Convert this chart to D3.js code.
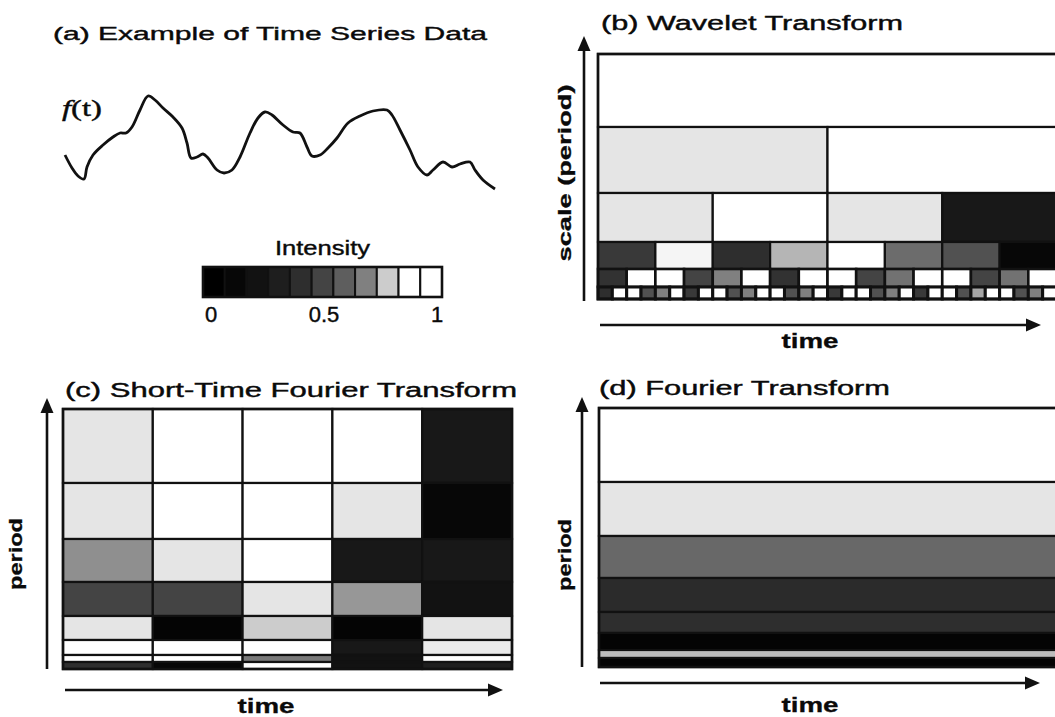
<!DOCTYPE html>
<html>
<head>
<meta charset="utf-8">
<script src="https://cdn.jsdelivr.net/npm/d3@7"></script>
<style>
  html, body { margin: 0; padding: 0; background: #fff; }
  svg { display: block; }
  text { font-family: "Liberation Sans", Arial, Helvetica, sans-serif; fill: #0a0a0a; }
</style>
</head>
<body>
<svg id="fig" width="1055" height="717"></svg>
<script>
// ---------------- data ----------------
// (a) example time series f(t): time and amplitude samples
const seriesT = [0, 7, 13, 19, 22, 28, 38, 48, 55, 61, 67, 75, 83, 90, 98, 108, 117, 122, 126, 132,
  138, 143, 152, 159, 167, 175, 185, 193, 200, 207, 218, 228, 235, 242, 247, 255, 263, 272, 283, 295,
  308, 322, 327, 335, 345, 353, 362, 368, 378, 387, 395, 405, 410, 418, 430];
const seriesF = [45, 32, 24, 21, 33, 45, 55, 63, 67, 67, 73, 90, 104, 100, 92, 83, 72, 57, 42, 43,
  46, 42, 30, 27, 30, 43, 67, 82, 88, 85, 75, 68, 67, 53, 44, 45, 52, 62, 77, 84,
  89, 90, 85, 70, 50, 33, 25, 30, 38, 33, 36, 38, 30, 20, 11];

// intensity legend
const intensityLevels = [0, 0.1, 0.2, 0.3, 0.4, 0.5, 0.6, 0.7, 0.8, 0.9, 1];
const intensityTicks = [0, 0.5, 1];
const intensityTickLabels = ["0", "0.5", "1"];
const grayStops  = [0, 0.1, 0.2, 0.3, 0.4, 0.5, 0.6, 0.7, 0.8, 0.9, 1];
const grayColors = ["#000000", "#070707", "#121212", "#1e1e1e", "#2e2e2e", "#444444",
                    "#5e5e5e", "#808080", "#cccccc", "#ffffff", "#ffffff"];

// (b) wavelet transform: one row per scale, coarse (top) to fine (bottom),
// each row doubles the number of time cells
const waveletRows = [
  [1],
  [0.85, 1],
  [0.85, 1, 0.85, 0.25],
  [0.45, 0.88, 0.4, 0.77, 1, 0.64, 0.55, 0.1],
  [0.42, 1, 1, 0.5, 0.7, 1, 0.42, 1, 1, 0.5, 0.66, 1, 1, 0.5, 0.66, 1],
  [0.4, 1, 1, 0.55, 0.7, 1, 0.45, 1, 1, 0.55, 0.7, 1, 1, 0.55, 0.7, 1,
   0.45, 1, 1, 0.55, 0.7, 1, 0.45, 1, 1, 0.55, 0.75, 1, 1, 0.55, 0.7, 1]
];
// scale-axis edges of the wavelet rows, finest (bottom) to coarsest (top)
const waveletRowEdges = [0, 12, 30, 57, 106, 172, 245];

// (c) short-time Fourier transform: 5 time windows, 8 period bands (long period at top)
const stftRows = [
  [0.85, 1, 1, 1, 0.25],
  [0.85, 1, 1, 0.85, 0.1],
  [0.72, 0.85, 1, 0.25, 0.25],
  [0.5, 0.5, 0.85, 0.73, 0.2],
  [0.85, 0.05, 0.8, 0.05, 0.85],
  [0.9, 1, 1, 0.25, 0.86],
  [1, 1, 0.68, 0.2, 1],
  [0.4, 0.1, 1, 0.2, 0.3]
];
const stftRowEdges = [0, 7, 14, 29, 53, 87, 130, 186, 260];

// (d) Fourier transform: one intensity per period band over the whole record
const ftRows = [1, 0.85, 0.63, 0.38, 0.4, 0.05, 0.78, 0.05];
const ftRowEdges = [0, 9, 17, 34, 55, 89, 131, 185, 259];

// ---------------- drawing ----------------
const svg = d3.select("#fig");
svg.append("rect").attr("width", 1055).attr("height", 717).attr("fill", "#fff");

const gray = d3.scaleLinear().domain(grayStops).range(grayColors).clamp(true);

function label(txt, x, y, o = {}) {
  const t = svg.append("text")
    .attr("x", x).attr("y", y)
    .attr("font-size", o.size || 20)
    .attr("font-weight", o.weight || "normal")
    .attr("text-anchor", o.anchor || "start")
    .attr("stroke", "#0a0a0a")
    .attr("stroke-width", o.weight === "bold" ? 0.3 : 0.4)
    .text(txt);
  if (o.len) t.attr("textLength", o.len).attr("lengthAdjust", "spacingAndGlyphs");
  if (o.rotate) t.attr("transform", `rotate(${o.rotate},${x},${y})`);
  return t;
}

function arrow(x1, y1, x2, y2, w = 2.6) {
  const dx = x2 - x1, dy = y2 - y1, L = Math.hypot(dx, dy);
  const ux = dx / L, uy = dy / L, hl = 15, hw = 6.5;
  const bx = x2 - ux * hl, by = y2 - uy * hl;
  svg.append("line").attr("x1", x1).attr("y1", y1).attr("x2", bx + ux * 2).attr("y2", by + uy * 2)
    .attr("stroke", "#111").attr("stroke-width", w);
  svg.append("path")
    .attr("d", `M${x2},${y2}L${bx - uy * hw},${by + ux * hw}L${bx + uy * hw},${by - ux * hw}Z`)
    .attr("fill", "#111");
}

function drawCells(cells, strokeW) {
  svg.append("g").selectAll("rect").data(cells).join("rect")
    .attr("x", d => d.x0).attr("y", d => d.y0)
    .attr("width", d => d.x1 - d.x0).attr("height", d => d.y1 - d.y0)
    .attr("fill", d => gray(d.v))
    .attr("stroke", "#111")
    .attr("stroke-width", d => d.sw || strokeW);
}

function frame(x0, y0, x1, y1) {
  svg.append("rect").attr("x", x0).attr("y", y0).attr("width", x1 - x0).attr("height", y1 - y0)
    .attr("fill", "none").attr("stroke", "#111").attr("stroke-width", 2.6);
}

// ----- (a) time series -----
label("(a) Example of Time Series Data", 53, 40, { size: 19, len: 434 });

const xA = d3.scaleLinear().domain([0, 430]).range([65, 495]);
const yA = d3.scaleLinear().domain([0, 110]).range([200, 90]);
svg.append("path")
  .datum(seriesT.map((t, i) => [t, seriesF[i]]))
  .attr("fill", "none").attr("stroke", "#111").attr("stroke-width", 2.8)
  .attr("stroke-linejoin", "round")
  .attr("d", d3.line().x(d => xA(d[0])).y(d => yA(d[1])).curve(d3.curveCatmullRom.alpha(0.5)));

const ft = svg.append("text").attr("x", 62).attr("y", 116)
  .attr("font-size", 24).attr("textLength", 40).attr("lengthAdjust", "spacingAndGlyphs")
  .attr("stroke", "#0a0a0a").attr("stroke-width", 0.4)
  .style("font-family", "'Liberation Serif', 'Times New Roman', serif");
ft.append("tspan").attr("font-style", "italic").text("f");
ft.append("tspan").text("(t)");

// ----- intensity legend -----
label("Intensity", 275, 255, { size: 20, len: 95 });
const xLeg = d3.scaleBand().domain(intensityLevels).range([203, 442]);
drawCells(intensityLevels.map(v => ({ x0: xLeg(v), x1: xLeg(v) + xLeg.bandwidth(), y0: 267, y1: 297, v })), 2);
frame(203, 267, 442, 297);
const xLegTick = d3.scaleLinear().domain([0, 1]).range([211, 437]);
intensityTicks.forEach((v, i) => label(intensityTickLabels[i], xLegTick(v), 322, { size: 22, anchor: "middle" }));

// ----- (b) wavelet transform -----
label("(b) Wavelet Transform", 601, 30, { size: 20, len: 302 });
const xB = d3.scaleLinear().domain([0, 1]).range([598, 1057]);
const yB = d3.scaleLinear().domain([0, 245]).range([299, 54]);
const nB = waveletRows.length;
const waveletCells = [];
waveletRows.forEach((row, i) => {
  const k = row.length;
  row.forEach((v, j) => waveletCells.push({
    x0: xB(j / k), x1: xB((j + 1) / k),
    y0: yB(waveletRowEdges[nB - i]), y1: yB(waveletRowEdges[nB - 1 - i]),
    v, sw: i >= 5 ? 3 : (i === 4 ? 2.6 : 2.2)
  }));
});
drawCells(waveletCells, 2.2);
frame(598, 54, 1057, 299);
arrow(584, 301, 584, 36);
label("scale (period)", 571, 173, { size: 19, weight: "bold", anchor: "middle", len: 177, rotate: -90 });
arrow(600, 325, 1041, 325);
label("time", 810, 348, { size: 21, weight: "bold", anchor: "middle", len: 57 });

// ----- (c) short-time Fourier transform -----
label("(c) Short-Time Fourier Transform", 65, 397, { size: 20, len: 452 });
const xC = d3.scaleBand().domain(d3.range(stftRows[0].length)).range([63, 512]);
const yC = d3.scaleLinear().domain([0, 260]).range([669, 409]);
const nC = stftRows.length;
const stftCells = [];
stftRows.forEach((row, i) => row.forEach((v, j) => stftCells.push({
  x0: xC(j), x1: xC(j) + xC.bandwidth(),
  y0: yC(stftRowEdges[nC - i]), y1: yC(stftRowEdges[nC - 1 - i]), v
})));
drawCells(stftCells, 2.2);
frame(63, 409, 512, 669);
arrow(47, 669, 47, 398);
label("period", 22, 554, { size: 19, weight: "bold", anchor: "middle", len: 72, rotate: -90 });
arrow(65, 690, 503, 690);
label("time", 266, 713, { size: 21, weight: "bold", anchor: "middle", len: 57 });

// ----- (d) Fourier transform -----
label("(d) Fourier Transform", 599, 395, { size: 20, len: 291 });
const xD = d3.scaleLinear().domain([0, 1]).range([599, 1057]);
const yD = d3.scaleLinear().domain([0, 259]).range([667, 408]);
const nD = ftRows.length;
drawCells(ftRows.map((v, i) => ({
  x0: xD(0), x1: xD(1),
  y0: yD(ftRowEdges[nD - i]), y1: yD(ftRowEdges[nD - 1 - i]), v
})), 2.2);
frame(599, 408, 1057, 667);
arrow(582, 667, 582, 397);
label("period", 571, 555, { size: 19, weight: "bold", anchor: "middle", len: 72, rotate: -90 });
arrow(600, 683, 1040, 683);
label("time", 810, 712, { size: 21, weight: "bold", anchor: "middle", len: 57 });
</script>
</body>
</html>
